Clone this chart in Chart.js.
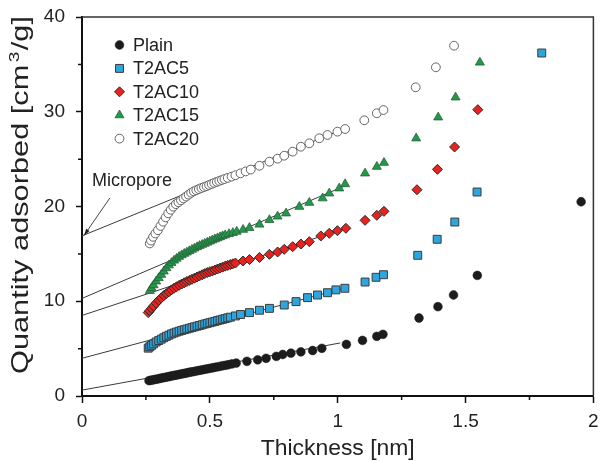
<!DOCTYPE html>
<html>
<head>
<meta charset="utf-8">
<script src="https://cdn.jsdelivr.net/npm/chart.js@4/dist/chart.umd.min.js"></script>
<style>
  html, body { margin: 0; padding: 0; background: #fff; }
  #wrap { width: 600px; height: 461px; }
</style>
</head>
<body>
<div id="wrap"><canvas id="c" width="600" height="461"></canvas></div>
<script>
// ---------------- DATA ----------------
const seriesNames = ['Plain', 'T2AC5', 'T2AC10', 'T2AC15', 'T2AC20'];

const plainX = [0.262,0.270,0.278,0.286,0.294,0.302,0.310,0.318,0.326,0.334,0.342,0.350,0.358,0.366,0.374,0.382,0.390,0.398,0.406,0.414,0.422,0.430,0.440,0.450,0.460,0.470,0.480,0.490,0.500,0.512,0.524,0.536,0.548,0.560,0.572,0.586,0.603,0.645,0.687,0.720,0.760,0.785,0.817,0.856,0.902,0.938,1.034,1.097,1.153,1.177,1.318,1.392,1.453,1.546,1.952];
const plainY = [1.62,1.66,1.70,1.75,1.79,1.84,1.88,1.93,1.97,2.02,2.06,2.11,2.15,2.20,2.24,2.29,2.33,2.37,2.42,2.46,2.51,2.55,2.60,2.66,2.71,2.76,2.82,2.87,2.92,2.98,3.05,3.11,3.18,3.24,3.30,3.38,3.48,3.66,3.82,3.98,4.18,4.38,4.52,4.66,4.80,5.03,5.45,5.87,6.30,6.51,8.23,9.43,10.66,12.73,20.5];

const t5X = [0.259,0.265,0.272,0.280,0.290,0.300,0.310,0.320,0.330,0.340,0.350,0.360,0.370,0.380,0.390,0.400,0.410,0.420,0.430,0.440,0.450,0.460,0.470,0.480,0.490,0.500,0.510,0.520,0.530,0.540,0.550,0.560,0.570,0.580,0.600,0.620,0.655,0.694,0.733,0.791,0.837,0.882,0.921,0.960,0.993,1.028,1.107,1.150,1.179,1.313,1.389,1.458,1.545,1.798];
const t5Y = [5.05,5.20,5.35,5.50,5.70,5.85,6.00,6.15,6.30,6.42,6.55,6.65,6.75,6.84,6.92,7.00,7.07,7.15,7.22,7.30,7.37,7.44,7.52,7.60,7.67,7.74,7.81,7.88,7.96,8.03,8.10,8.17,8.25,8.32,8.45,8.60,8.80,9.05,9.25,9.60,9.96,10.38,10.66,10.90,11.20,11.37,12.03,12.53,12.80,14.85,16.54,18.36,21.53,36.2];

const t10X = [0.259,0.265,0.272,0.280,0.290,0.300,0.310,0.320,0.330,0.340,0.350,0.360,0.370,0.380,0.390,0.400,0.410,0.420,0.430,0.440,0.450,0.460,0.470,0.480,0.490,0.500,0.510,0.520,0.530,0.540,0.550,0.560,0.570,0.580,0.590,0.600,0.630,0.655,0.694,0.733,0.765,0.791,0.824,0.856,0.889,0.934,0.967,0.999,1.032,1.107,1.153,1.181,1.310,1.390,1.457,1.548];
const t10Y = [8.8,9.0,9.25,9.5,9.8,10.1,10.35,10.6,10.8,11.0,11.2,11.38,11.53,11.68,11.82,11.95,12.08,12.2,12.32,12.44,12.56,12.68,12.8,12.92,13.03,13.12,13.2,13.3,13.4,13.5,13.6,13.7,13.78,13.87,13.95,14.03,14.25,14.4,14.62,14.95,15.2,15.48,15.76,16.04,16.29,16.89,17.17,17.45,17.7,18.54,19.07,19.49,21.77,23.92,26.28,30.22];

const t15X = [0.265,0.272,0.280,0.290,0.300,0.310,0.320,0.330,0.340,0.350,0.360,0.370,0.380,0.390,0.400,0.410,0.420,0.430,0.440,0.450,0.460,0.470,0.480,0.490,0.500,0.510,0.520,0.530,0.540,0.550,0.560,0.575,0.590,0.605,0.630,0.655,0.694,0.733,0.765,0.798,0.850,0.889,0.941,0.967,1.006,1.029,1.107,1.153,1.181,1.307,1.393,1.461,1.556];
const t15Y = [11.1,11.4,11.7,12.1,12.45,12.8,13.15,13.5,13.8,14.05,14.3,14.5,14.7,14.87,15.02,15.16,15.3,15.45,15.58,15.72,15.85,15.97,16.08,16.2,16.32,16.44,16.55,16.66,16.77,16.88,16.98,17.1,17.22,17.35,17.55,17.75,18.1,18.58,18.95,19.28,19.98,20.4,20.87,21.39,21.92,22.37,23.5,24.2,24.62,27.2,29.41,31.52,35.2];

const t20X = [0.265,0.270,0.278,0.287,0.297,0.307,0.317,0.327,0.337,0.347,0.357,0.367,0.377,0.387,0.397,0.407,0.417,0.427,0.437,0.447,0.457,0.467,0.477,0.487,0.497,0.507,0.517,0.527,0.537,0.547,0.557,0.570,0.585,0.600,0.620,0.640,0.660,0.694,0.733,0.765,0.791,0.824,0.856,0.889,0.928,0.960,0.999,1.029,1.104,1.153,1.179,1.305,1.384,1.455];
const t20Y = [16.1,16.4,16.8,17.15,17.5,17.95,18.4,18.85,19.28,19.65,19.98,20.25,20.45,20.65,20.85,21.05,21.25,21.45,21.6,21.72,21.84,21.95,22.05,22.15,22.27,22.38,22.5,22.6,22.7,22.8,22.9,23.02,23.15,23.3,23.5,23.7,23.9,24.3,24.73,25.05,25.36,25.79,26.31,26.67,27.2,27.55,27.9,28.18,29.1,29.84,30.18,32.58,34.69,36.97];

// fitted lines (t-plot linear fits): [x0, x1] and [y0, y1]
const fitX = [[0, 1.01], [0, 1.03], [0, 1.03], [0, 1.03], [0, 1.03]];
const fitY = [[0.62, 5.6], [3.98, 11.4], [8.5, 17.7], [10.3, 22.2], [16.9, 28.25]];

const xTickLabels = ['0', '0.5', '1', '1.5', '2'];
const yTickLabels = ['0', '10', '20', '30', '40'];
const xTitle = 'Thickness [nm]';
const yTitleParts = ['Quantity adsorbed [cm', '3', '/g]'];
const annotationText = 'Micropore';
// annotation anchor points in data units: text, arrow start, arrow tip
const annotText = [0.039, 22.2];
const annotFrom = [0.109, 20.9];
const annotTo = [0.008, 16.95];

// ---------------- STYLES ----------------
const FONT = '"Liberation Sans", Arial, Helvetica, sans-serif';
const styles = [
  { pointStyle: 'circle',   radius: 4.4, bg: '#1c1c1c', border: '#1c1c1c', bw: 0.5 },
  { pointStyle: 'rect',     radius: 5.6, bg: '#2ea6dd', border: '#3b3b3b', bw: 1 },
  { pointStyle: 'rectRot',  radius: 5.0, bg: '#e8231f', border: '#2b2b2b', bw: 1 },
  { pointStyle: 'triangle', radius: 5.2, bg: '#1f9a4a', border: '#2e5e3a', bw: 0.8 },
  { pointStyle: 'circle',   radius: 4.4, bg: '#ffffff', border: '#555555', bw: 0.9 }
];
const xs = [plainX, t5X, t10X, t15X, t20X];
const ys = [plainY, t5Y, t10Y, t15Y, t20Y];

const datasets = [];
for (let i = 0; i < 5; i++) {
  datasets.push({
    type: 'line',
    label: seriesNames[i] + ' fit',
    data: fitX[i].map((x, k) => ({ x, y: fitY[i][k] })),
    borderColor: '#3a3a3a',
    borderWidth: 1,
    pointRadius: 0,
    fill: false,
    order: 10,
    clip: false
  });
}
for (let i = 4; i >= 0; i--) {
  const s = styles[i];
  datasets.push({
    type: 'scatter',
    label: seriesNames[i],
    data: xs[i].map((x, k) => ({ x, y: ys[i][k] })),
    pointStyle: s.pointStyle,
    pointRadius: s.radius,
    pointBackgroundColor: s.bg,
    pointBorderColor: s.border,
    pointBorderWidth: s.bw,
    showLine: false,
    order: i,
    clip: false
  });
}

function drawMarker(ctx, s, x, y) {
  const r = s.radius;
  if (s.pointStyle === 'circle') {
    ctx.arc(x, y, r, 0, Math.PI * 2);
  } else if (s.pointStyle === 'rect') {
    const h = r * Math.SQRT1_2;
    ctx.rect(x - h, y - h, 2 * h, 2 * h);
  } else if (s.pointStyle === 'rectRot') {
    ctx.moveTo(x, y - r); ctx.lineTo(x + r, y); ctx.lineTo(x, y + r); ctx.lineTo(x - r, y); ctx.closePath();
  } else if (s.pointStyle === 'triangle') {
    for (let k = 0; k < 3; k++) {
      const ang = k * 2 * Math.PI / 3;
      const px = x + Math.sin(ang) * r, py = y - Math.cos(ang) * r;
      if (k === 0) ctx.moveTo(px, py); else ctx.lineTo(px, py);
    }
    ctx.closePath();
  }
}

// ---------------- PLUGIN: frame, minor ticks, titles, legend, annotation ----------------
const extras = {
  id: 'extras',
  afterDraw(chart) {
    const ctx = chart.ctx;
    const a = chart.chartArea;
    const sx = chart.scales.x, sy = chart.scales.y;
    ctx.save();
    // top & right frame
    ctx.strokeStyle = '#333';
    ctx.lineWidth = 1.5;
    ctx.beginPath();
    ctx.moveTo(a.left, a.top); ctx.lineTo(a.right, a.top); ctx.lineTo(a.right, a.bottom);
    ctx.stroke();
    // minor ticks
    ctx.strokeStyle = '#111';
    ctx.lineWidth = 1.5;
    ctx.beginPath();
    for (let v = 0.25; v < 2; v += 0.5) {
      const px = sx.getPixelForValue(v);
      ctx.moveTo(px, a.bottom); ctx.lineTo(px, a.bottom + 4);
    }
    for (let v = 5; v < 40; v += 10) {
      const py = sy.getPixelForValue(v);
      ctx.moveTo(a.left, py); ctx.lineTo(a.left - 4, py);
    }
    ctx.stroke();

    // x title
    ctx.fillStyle = '#222';
    ctx.font = '22px ' + FONT;
    ctx.textAlign = 'center';
    ctx.textBaseline = 'alphabetic';
    const xtw = ctx.measureText(xTitle).width;
    ctx.save();
    ctx.translate((a.left + a.right) / 2, 455);
    ctx.scale(154 / xtw, 1);
    ctx.fillText(xTitle, 0, 0);
    ctx.restore();

    // y title (rotated, with superscript)
    ctx.save();
    ctx.translate(28, 195);
    ctx.rotate(-Math.PI / 2);
    const big = '24px ' + FONT, small = '15px ' + FONT;
    ctx.font = big; const w0 = ctx.measureText(yTitleParts[0]).width;
    const w2 = ctx.measureText(yTitleParts[2]).width;
    ctx.font = small; const w1 = ctx.measureText(yTitleParts[1]).width + 3;
    const total = w0 + w1 + w2;
    const target = 358;
    ctx.scale(target / total, 1);
    let x0 = -total / 2;
    ctx.textAlign = 'left';
    ctx.font = big; ctx.fillText(yTitleParts[0], x0, 0);
    ctx.font = small; ctx.fillText(yTitleParts[1], x0 + w0 + 2, -9);
    ctx.font = big; ctx.fillText(yTitleParts[2], x0 + w0 + w1, 0);
    ctx.restore();

    // legend
    const lx = 119.5, ly0 = 45, dy = 23.4;
    ctx.font = '18px ' + FONT;
    ctx.textAlign = 'left';
    ctx.textBaseline = 'middle';
    for (let i = 0; i < 5; i++) {
      const s = styles[i];
      const y = ly0 + i * dy;
      ctx.fillStyle = s.bg; ctx.strokeStyle = s.border; ctx.lineWidth = s.bw;
      ctx.beginPath();
      drawMarker(ctx, s, lx, y);
      ctx.fill(); ctx.stroke();
      ctx.fillStyle = '#222';
      ctx.fillText(seriesNames[i], 133, y + 1);
    }

    // annotation
    ctx.font = '18px ' + FONT;
    ctx.textBaseline = 'alphabetic';
    ctx.fillStyle = '#222';
    ctx.fillText(annotationText, sx.getPixelForValue(annotText[0]), sy.getPixelForValue(annotText[1]));
    const fx = sx.getPixelForValue(annotFrom[0]), fy = sy.getPixelForValue(annotFrom[1]);
    const tx = sx.getPixelForValue(annotTo[0]), ty = sy.getPixelForValue(annotTo[1]);
    ctx.strokeStyle = '#333'; ctx.lineWidth = 0.9;
    ctx.beginPath(); ctx.moveTo(fx, fy); ctx.lineTo(tx, ty); ctx.stroke();
    const ang = Math.atan2(ty - fy, tx - fx);
    ctx.fillStyle = '#222';
    ctx.beginPath();
    ctx.moveTo(tx, ty);
    ctx.lineTo(tx - 7 * Math.cos(ang - 0.3), ty - 7 * Math.sin(ang - 0.3));
    ctx.lineTo(tx - 7 * Math.cos(ang + 0.3), ty - 7 * Math.sin(ang + 0.3));
    ctx.closePath(); ctx.fill();
    ctx.restore();
  }
};

new Chart(document.getElementById('c'), {
  type: 'scatter',
  data: { datasets },
  plugins: [extras],
  options: {
    responsive: false,
    animation: false,
    events: [],
    layout: { padding: { top: 17, right: 5, left: 0, bottom: 0 } },
    plugins: { legend: { display: false }, tooltip: { enabled: false } },
    scales: {
      x: {
        type: 'linear', min: 0, max: 2,
        afterFit(s) { s.height = 65; s.paddingRight = 0; s.paddingLeft = 0; },
        ticks: {
          stepSize: 0.5, maxRotation: 0, autoSkip: false,
          callback: (v, i) => xTickLabels[i],
          font: { family: FONT, size: 19 }, color: '#222', padding: 7
        },
        grid: { drawOnChartArea: false, drawTicks: true, tickLength: 7, tickColor: '#111', tickWidth: 1.5 },
        border: { display: true, color: '#111', width: 2 }
      },
      y: {
        type: 'linear', min: 0, max: 40,
        afterFit(s) { s.width = 82; s.paddingTop = 0; s.paddingBottom = 0; },
        ticks: {
          stepSize: 10, autoSkip: false,
          callback: (v, i) => yTickLabels[i],
          font: { family: FONT, size: 19 }, color: '#222', padding: 11
        },
        grid: { drawOnChartArea: false, drawTicks: true, tickLength: 6, tickColor: '#111', tickWidth: 1.5 },
        border: { display: true, color: '#111', width: 2 }
      }
    }
  }
});
</script>
</body>
</html>
